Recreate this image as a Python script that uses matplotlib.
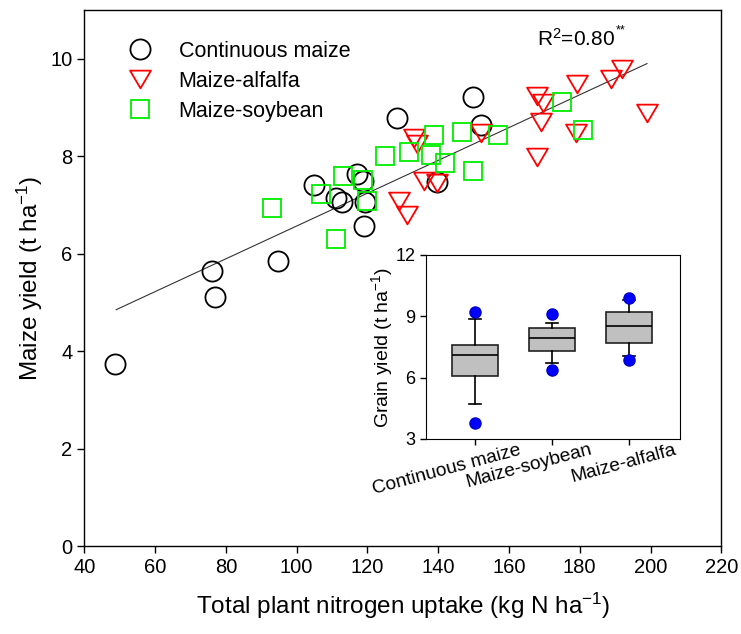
import numpy as np
import matplotlib
matplotlib.use("Agg")
import matplotlib.pyplot as plt
from matplotlib.path import Path
from matplotlib.transforms import ScaledTranslation

plt.rcParams['font.family'] = ['Liberation Sans', 'DejaVu Sans']
plt.rcParams['mathtext.fontset'] = 'custom'
plt.rcParams['mathtext.rm'] = 'Liberation Sans'
plt.rcParams['mathtext.it'] = 'Liberation Sans:italic'
plt.rcParams['mathtext.default'] = 'regular'

# continuous maize
cm_x = [48.8, 76.0, 76.9, 94.8, 105.0, 111.0, 112.8, 117.0, 118.8, 119.2, 119.0, 128.3, 139.6, 149.9, 152.0]
cm_y = [3.74, 5.65, 5.12, 5.85, 7.41, 7.15, 7.05, 7.64, 7.49, 7.05, 6.57, 8.78, 7.48, 9.21, 8.64]

# maize-alfalfa
ma_x = [133.2, 134.1, 136.1, 139.6, 128.9, 131.1, 152.1, 168.0, 169.7, 169.0, 179.1, 179.0, 168.0, 188.7, 192.0, 198.9]
ma_y = [8.37, 8.25, 7.50, 7.45, 7.09, 6.80, 8.47, 9.23, 9.10, 8.71, 9.48, 8.47, 7.98, 9.59, 9.79, 8.89]

# maize-soybean
ms_x = [92.9, 106.9, 113.1, 118.8, 119.8, 111.1, 125.0, 131.8, 138.8, 137.9, 142.0, 146.8, 149.8, 157.0, 175.0, 180.8]
ms_y = [6.93, 7.23, 7.60, 7.52, 7.08, 6.31, 8.00, 8.09, 8.44, 8.03, 7.87, 8.49, 7.69, 8.43, 9.11, 8.54]

# regression line ends
fit_x = [49, 199]
fit_y = [4.85, 9.90]

# inset box stats
box_labels = ["Continuous maize", "Maize-soybean", "Maize-alfalfa"]
box_q1 = [6.07, 7.29, 7.68]
box_med = [7.09, 7.94, 8.51]
box_q3 = [7.58, 8.41, 9.21]
box_wlo = [4.73, 6.73, 7.05]
box_whi = [8.85, 8.69, 9.80]
box_fliers = [[3.77, 9.23], [6.36, 9.13], [6.88, 9.88]]

fig = plt.figure(figsize=(7.41, 6.34), dpi=100)
ax = fig.add_axes([0.1138, 0.1388, 0.8596, 0.8454])

tri = Path([(-1, 0.85), (1, 0.85), (0, -0.85), (-1, 0.85)], closed=True)
ax.plot(fit_x, fit_y, color='#333333', lw=0.8, zorder=1)
ax.plot(cm_x, cm_y, 'o', ms=14.5, mfc='none', mec='black', mew=1.3, ls='none', label='Continuous maize')
ax.plot(ma_x, ma_y, marker=tri, ms=15, mfc='none', mec='#ff0000', mew=1.3, ls='none', label='Maize-alfalfa')
ax.plot(ms_x, ms_y, 's', ms=13, mfc='none', mec='#00ee00', mew=1.3, ls='none', label='Maize-soybean')

ax.set_xlim(40, 220)
ax.set_ylim(0, 11)
ax.set_xticks(np.arange(40, 221, 20))
ax.set_yticks(np.arange(0, 11, 2))
ax.tick_params(direction='out', length=5, width=1, labelsize=14.5, top=False, right=False)
for s in ax.spines.values():
    s.set_linewidth(1.0)
ax.set_xlabel('Total plant nitrogen uptake (kg N ha$^{-1}$)', fontsize=17.5, labelpad=10)
ax.set_ylabel('Maize yield (t ha$^{-1}$)', fontsize=17.5, labelpad=4)

ax.legend(loc='upper left', bbox_to_anchor=(0.0705, 0.9425), frameon=False, fontsize=15.5,
          numpoints=1, handlelength=1.0, handletextpad=1.3, labelspacing=0.42,
          borderaxespad=0, borderpad=0)

ax.text(167.9, 10.27, 'R$^2$=0.80', fontsize=15, ha='left', va='baseline')
ax.annotate('**', xy=(167.9, 10.27), xytext=(57, 9), textcoords='offset points',
            fontsize=9, ha='left', va='baseline')

# inset boxplot
ax2 = fig.add_axes([0.5745, 0.3076, 0.3432, 0.2902])
stats = []
for i in range(3):
    stats.append(dict(med=box_med[i], q1=box_q1[i], q3=box_q3[i], whislo=box_wlo[i],
                      whishi=box_whi[i], fliers=box_fliers[i], label=box_labels[i]))
ax2.bxp(stats, positions=[1, 2, 3], widths=0.6, capwidths=0.15, patch_artist=True,
        boxprops=dict(facecolor='#c0c0c0', edgecolor='#222222', linewidth=1.2),
        medianprops=dict(color='black', linewidth=1.2),
        whiskerprops=dict(color='black', linewidth=1.2),
        capprops=dict(color='black', linewidth=1.2),
        flierprops=dict(marker='o', markerfacecolor='#0000ff', markeredgecolor='#0000cc', markersize=8))
ax2.set_xlim(0.36, 3.66)
ax2.set_ylim(3, 12)
ax2.set_yticks([3, 6, 9, 12])
ax2.tick_params(direction='out', length=4, width=1, labelsize=13)
ax2.set_xticks([1, 2, 3])
ax2.set_xticklabels(box_labels, rotation=15, ha='center', fontsize=13.8)
shifts = [-0.28, -0.23, -0.06]
for lab, dx in zip(ax2.get_xticklabels(), shifts):
    lab.set_transform(lab.get_transform() + ScaledTranslation(dx, 0.08, fig.dpi_scale_trans))
ax2.set_ylabel('Grain yield (t ha$^{-1}$)', fontsize=14, labelpad=0)

plt.savefig('out.png', dpi=100)
